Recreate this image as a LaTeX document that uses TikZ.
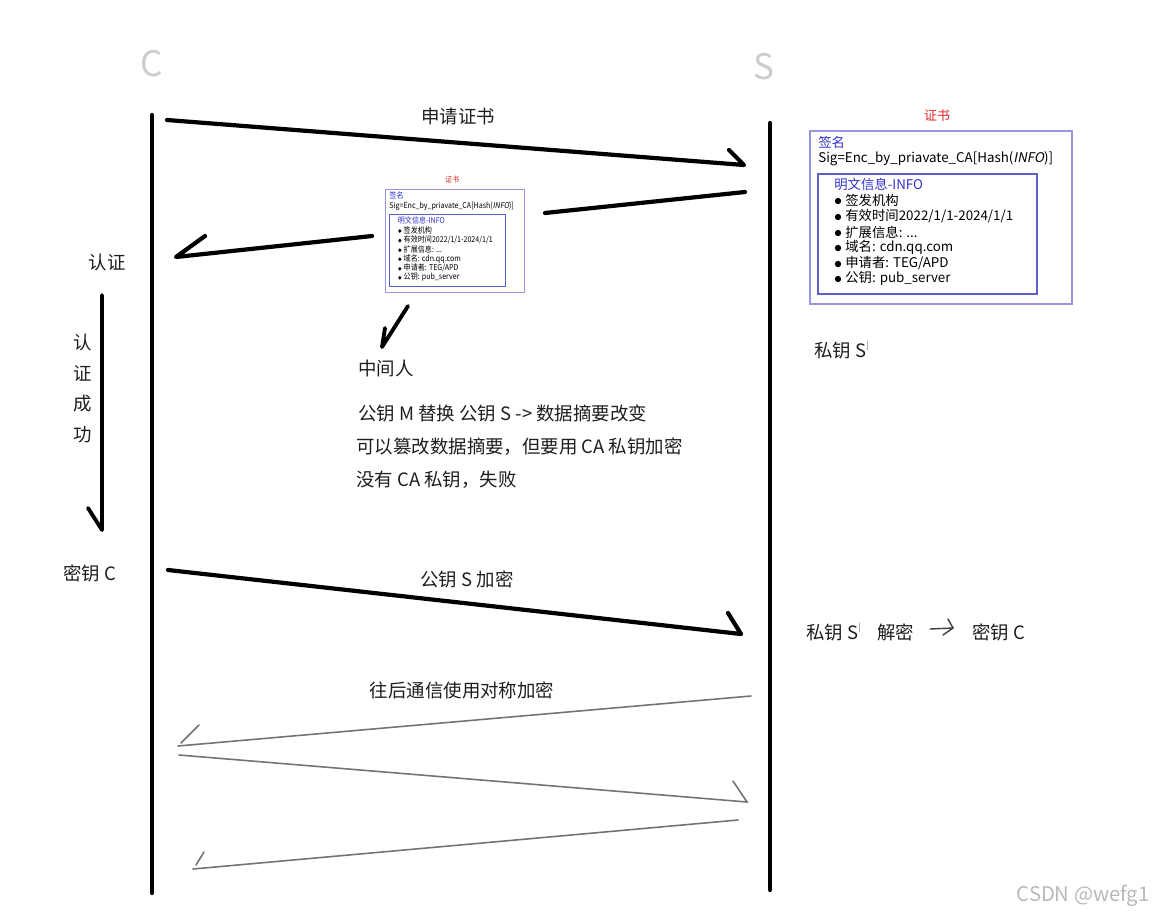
\documentclass[tikz,border=0pt]{standalone}
\usepackage{fontspec}
\setmainfont{Noto Sans CJK SC}
\newfontfamily\slantfont[FakeSlant=0.2]{Noto Sans CJK SC}
\definecolor{certblue}{RGB}{50,50,205}
\definecolor{outerblue}{RGB}{150,150,225}
\definecolor{innerblue}{RGB}{95,95,200}
\definecolor{certred}{RGB}{225,40,40}
\definecolor{inkgray}{RGB}{115,115,115}
\definecolor{txt}{RGB}{30,30,30}
\newcommand{\tick}{\raisebox{0.85ex}{\fontsize{5}{5}\selectfont\color{inkgray}|}}
\tikzset{
  thickink/.style={line width=2.4pt, line cap=round, line join=round, black},
  thinink/.style={line width=0.9pt, line cap=round, inkgray},
  lbl/.style={inner sep=0pt, font=\fontsize{10.5}{12}\selectfont, text=txt},
  bigletter/.style={inner sep=0pt, font=\fontsize{20}{22}\selectfont, text=gray!40},
  certtext/.style={inner sep=0pt, anchor=west, font=\fontsize{7.6}{9}\selectfont, text=black},
  bulletdot/.style={circle, fill=black, inner sep=0pt, minimum size=3.6},
  outerbox/.style={draw=outerblue, line width=0.9pt},
  innerbox/.style={draw=innerblue, line width=0.9pt},
  pics/cert/.style={code={
    \node[inner sep=0pt, font=\fontsize{7.4}{9}\selectfont, text=certred] (-title) at (127,-15) {证书};
    \draw[outerbox] (0,0) rectangle (262,173);
    \node[certtext, text=certblue] (-siglabel) at (8,11) {签名};
    \node[certtext] (-sig) at (8,28) {Sig=Enc\_by\_priavate\_CA[Hash({\slantfont INFO})]};
    \draw[innerbox] (8,43) rectangle (227,163);
    \node[certtext, text=certblue] (-info) at (24,53) {明文信息-INFO};
    \node[bulletdot] (-b1) at (28,70) {};
    \node[certtext] (-i1) at (35,69) {签发机构};
    \node[bulletdot] (-b2) at (28,86) {};
    \node[certtext] (-i2) at (35,85) {有效时间2022/1/1-2024/1/1};
    \node[bulletdot] (-b3) at (28,102) {};
    \node[certtext] (-i3) at (35,101) {扩展信息: ...};
    \node[bulletdot] (-b4) at (28,117) {};
    \node[certtext] (-i4) at (35,116) {域名: cdn.qq.com};
    \node[bulletdot] (-b5) at (28,133) {};
    \node[certtext] (-i5) at (35,132) {申请者: TEG/APD};
    \node[bulletdot] (-b6) at (28,148) {};
    \node[certtext] (-i6) at (35,147) {公钥: pub\_server};
  }}
}
\begin{document}
\begin{tikzpicture}[x=0.02cm, y=-0.02cm]
\fill[white] (0,0) rectangle (1159,916);
\path[use as bounding box] (0,0) rectangle (1159,916);

% participants
\node[bigletter] (C) at (152,64) {C};
\node[bigletter] (S) at (764,67) {S};

% lifelines
\coordinate (cTop) at (152,115);
\coordinate (cBot) at (152,893);
\coordinate (sTop) at (770,123);
\coordinate (sBot) at (770,890);
\draw[thickink] (cTop) -- (cBot);
\draw[thickink] (sTop) -- (sBot);

% 1: request certificate
\coordinate (a1s) at (167,120);
\coordinate (a1e) at (744,165);
\coordinate (a1b) at (729,150);
\draw[thickink] (a1s) -- (a1e) -- (a1b);
\node[lbl] (req) at (458,116) {申请证书};

% big certificate
\pic (big) at (810,131) {cert};
\node[lbl, anchor=west] (spriv) at (814,350) {私钥 S\tick};

% 2: certificate returned (intercepted)
\coordinate (a2s) at (745,192);
\coordinate (a2m) at (545,213);
\coordinate (a2n) at (372,236);
\coordinate (a2e) at (176,257);
\coordinate (a2b) at (205,236);
\draw[thickink] (a2s) -- (a2m);
\draw[thickink] (a2n) -- (a2e) -- (a2b);

% thumbnail certificate
\begin{scope}[shift={(385,189)}, xscale=0.53, yscale=0.6, transform shape,
  outerbox/.append style={line width=0.4pt}, innerbox/.append style={line width=0.4pt}]
  \pic (thumb) at (0,0) {cert};
\end{scope}

% to man in the middle
\coordinate (m1) at (408,306);
\coordinate (m2) at (382,347);
\coordinate (m3) at (385,328);
\draw[thickink, line width=2.2pt] (m1) -- (m2) -- (m3);
\node[lbl, anchor=west] (mitm) at (358,368) {中间人};
\node[lbl, anchor=west] (l1) at (358,413) {公钥 M 替换 公钥 S -> 数据摘要改变};
\node[lbl, anchor=west] (l2) at (356,447) {可以篡改数据摘要，但要用 CA 私钥加密};
\node[lbl, anchor=west] (l3) at (356,480) {没有 CA 私钥，失败};

% client side
\node[lbl] (auth) at (107,262) {认证};
\coordinate (v1) at (102,295);
\coordinate (v2) at (102,530);
\coordinate (v3) at (88,508);
\draw[thickink, line width=2.2pt] (v1) -- (v2) -- (v3);
\node[lbl] (ok1) at (83,342) {认};
\node[lbl] (ok2) at (83,373) {证};
\node[lbl] (ok3) at (83,404) {成};
\node[lbl] (ok4) at (83,435) {功};
\node[lbl, anchor=west] (ckey) at (63,573) {密钥 C};

% 3: encrypted key
\coordinate (a3s) at (168,570);
\coordinate (a3e) at (741,634);
\coordinate (a3b) at (728,613);
\draw[thickink] (a3s) -- (a3e) -- (a3b);
\node[lbl] (enc) at (467,579) {公钥 S 加密};

\node[lbl, anchor=west] (spriv2) at (806,632) {私钥 S\tick};
\node[lbl, anchor=west] (dec) at (877,632) {解密};
\coordinate (r1) at (930,629);
\coordinate (r2) at (953,628);
\coordinate (r3) at (948,619);
\coordinate (r4) at (943,635);
\draw[thinink, line width=0.8pt, black!75] (r1) -- (r2);
\draw[thinink, line width=0.8pt, black!75] (r3) -- (r2) -- (r4);
\node[lbl, anchor=west] (ckey2) at (972,632) {密钥 C};

% symmetric communication
\node[lbl] (sym) at (462,690) {往后通信使用对称加密};
\coordinate (gA1) at (751,696);
\coordinate (gA2) at (178,746);
\coordinate (gAb1) at (181,743);
\coordinate (gAb2) at (199,725);
\draw[thinink] (gA1) -- (gA2);
\draw[thinink] (gAb1) -- (gAb2);
\coordinate (gB1) at (179,755);
\coordinate (gB2) at (747,802);
\coordinate (gBb) at (733,781);
\draw[thinink] (gB1) -- (gB2) -- (gBb);
\coordinate (gC1) at (738,820);
\coordinate (gC2) at (193,869);
\coordinate (gCb1) at (196,865);
\coordinate (gCb2) at (204,852);
\draw[thinink] (gC1) -- (gC2);
\draw[thinink] (gCb1) -- (gCb2);

% watermark
\node[inner sep=0pt, font=\fontsize{11.5}{13}\selectfont, text=gray!55] (wm) at (1083,896) {CSDN @wefg1};
\end{tikzpicture}
\end{document}
